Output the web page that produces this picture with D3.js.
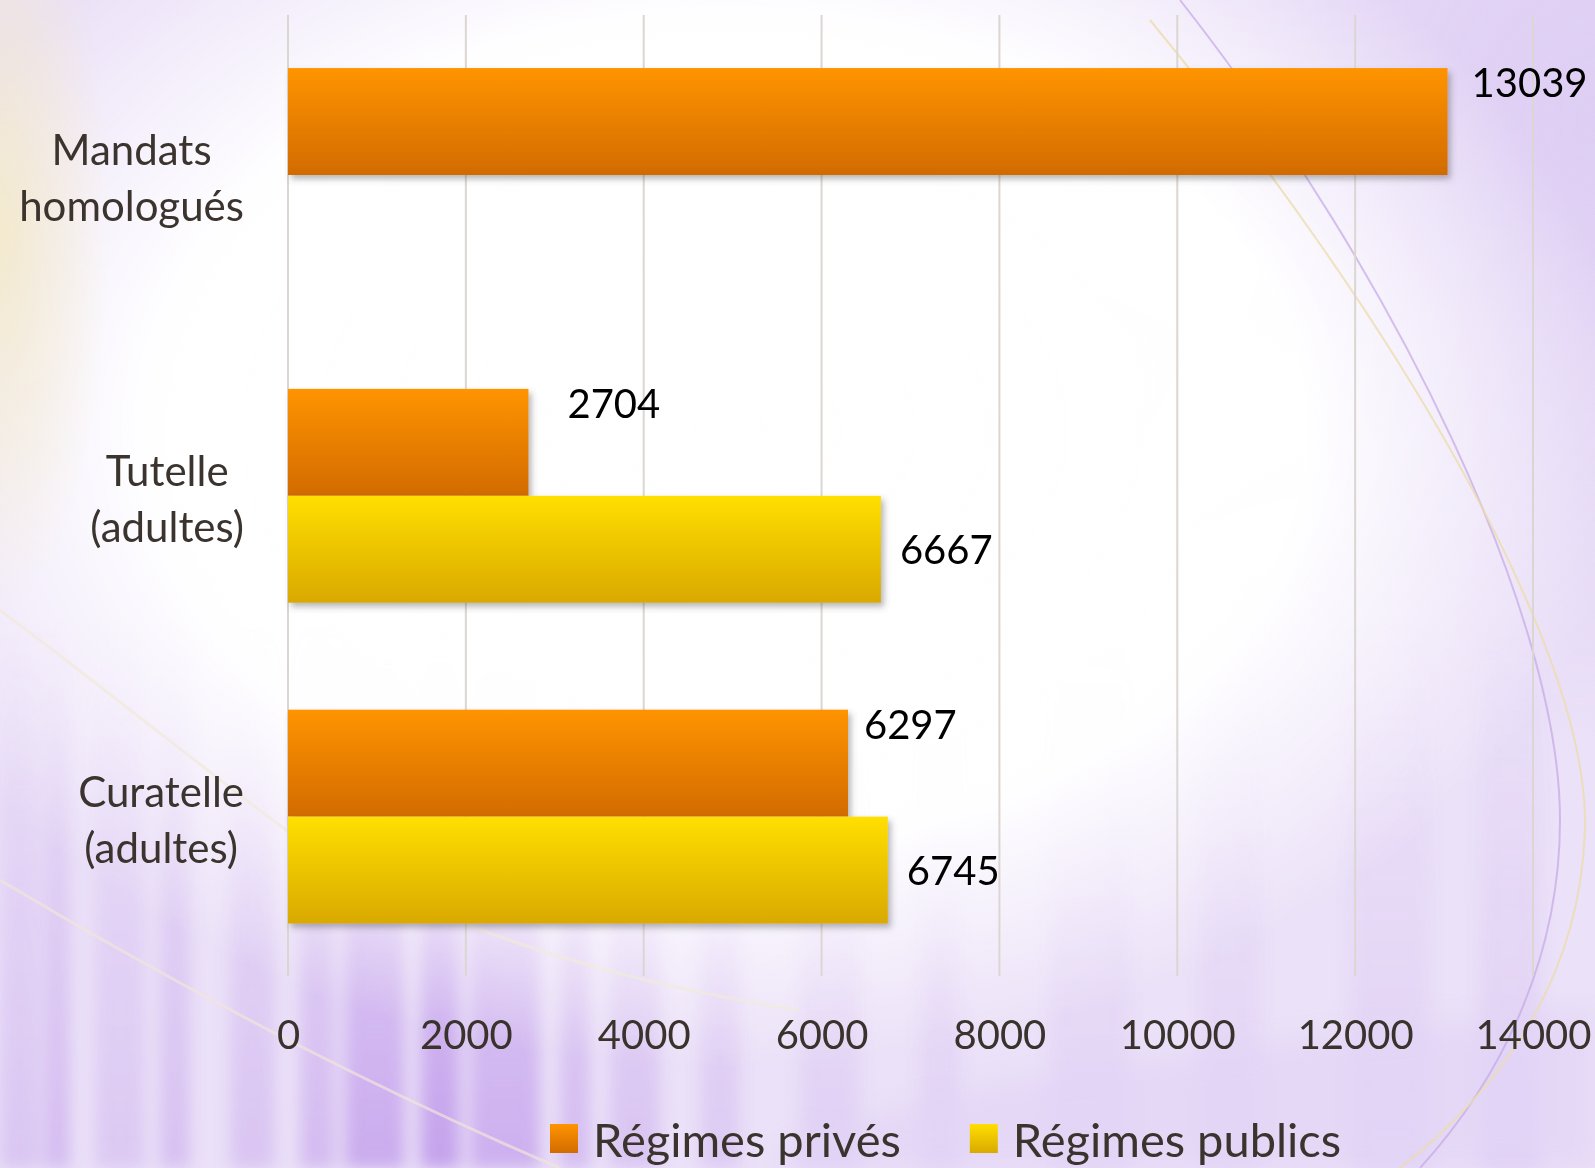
<!DOCTYPE html>
<html>
<head>
<meta charset="utf-8">
<script src="https://cdn.jsdelivr.net/npm/d3@7"></script>
<style>
  html, body { margin: 0; padding: 0; background: #fff; overflow: hidden; }
  svg { display: block; }
  text { font-family: Lato, "Open Sans", sans-serif; }
</style>
</head>
<body>
<svg id="chart"></svg>
<script>
// data
var categories = ["Mandats homologués", "Tutelle (adultes)", "Curatelle (adultes)"];
var categoryLines = [["Mandats", "homologués"], ["Tutelle", "(adultes)"], ["Curatelle", "(adultes)"]];
var seriesNames = ["Régimes privés", "Régimes publics"];
var privesValues = [13039, 2704, 6297];
var publicsValues = [null, 6667, 6745];
var xTicks = [0, 2000, 4000, 6000, 8000, 10000, 12000, 14000];

// hand-placed data labels in the original (horizontal nudge per bar)
var privesLabelDx = [24, 39, 16];
var publicsLabelDx = [0, 19, 19];

var width = 1595, height = 1168;
var svg = d3.select("#chart").attr("width", width).attr("height", height);
var defs = svg.append("defs");

function vGradient(id, stops) {
  var g = defs.append("linearGradient").attr("id", id)
      .attr("x1", 0).attr("y1", 0).attr("x2", 0).attr("y2", 1);
  stops.forEach(s => g.append("stop").attr("offset", s[0])
      .attr("stop-color", s[1]).attr("stop-opacity", s[2] == null ? 1 : s[2]));
}
function rGradient(id, stops) {
  var g = defs.append("radialGradient").attr("id", id);
  stops.forEach(s => g.append("stop").attr("offset", s[0])
      .attr("stop-color", s[1]).attr("stop-opacity", s[2]));
}

vGradient("gradPrives", [[0, "#ff9400"], [1, "#d26b00"]]);
vGradient("gradPublics", [[0, "#ffdf00"], [1, "#d9a900"]]);
vGradient("streak", [[0, "#b07ee6", 0], [0.5, "#b07ee6", 0.6], [1, "#a874e4", 1]]);
rGradient("glow", [[0, "#ffffff", 1], [0.64, "#ffffff", 0.97], [1, "#ffffff", 0]]);
rGradient("beige", [[0, "#f3e9c8", 0.9], [1, "#f3e9c8", 0]]);
rGradient("lav", [[0, "#dccbf3", 0.9], [1, "#dccbf3", 0]]);

var shadow = defs.append("filter").attr("id", "shadow")
    .attr("x", "-5%").attr("y", "-10%").attr("width", "115%").attr("height", "130%");
shadow.append("feDropShadow").attr("dx", 3).attr("dy", 4).attr("stdDeviation", 3)
    .attr("flood-color", "#4a4a4a").attr("flood-opacity", 0.4);
defs.append("filter").attr("id", "soft").append("feGaussianBlur").attr("stdDeviation", 8);
defs.append("filter").attr("id", "softer").append("feGaussianBlur").attr("stdDeviation", 14);

// background (slide theme)
var bg = svg.append("g");
bg.append("rect").attr("width", width).attr("height", height).attr("fill", "#ebe1f8");
var streaks = [[0, 40, .25], [45, 25, .35], [95, 50, .22], [160, 30, .3], [230, 45, .26],
  [300, 35, .35], [345, 60, .5], [420, 40, .58], [470, 70, .46], [560, 30, .34],
  [610, 50, .26], [700, 40, .2], [800, 60, .14], [920, 40, .12], [1050, 80, .1],
  [1200, 60, .1], [1350, 80, .12], [1480, 60, .15]];
bg.append("g").attr("filter", "url(#soft)")
  .selectAll("rect").data(streaks).join("rect")
    .attr("x", d => d[0]).attr("width", d => d[1])
    .attr("y", 620).attr("height", height - 620)
    .attr("fill", "url(#streak)").attr("opacity", d => d[2]);
bg.append("ellipse").attr("cx", 1595).attr("cy", 120).attr("rx", 520).attr("ry", 620)
    .attr("fill", "url(#lav)");
bg.append("ellipse").attr("cx", 730).attr("cy", 430).attr("rx", 900).attr("ry", 640)
    .attr("fill", "url(#glow)");
bg.append("path").attr("d", "M760,1168 C900,1080 1200,1050 1595,1010 L1595,1168 Z")
    .attr("fill", "#e2d4f6").attr("opacity", 0.75).attr("filter", "url(#softer)");
bg.append("ellipse").attr("cx", 0).attr("cy", 230).attr("rx", 110).attr("ry", 380)
    .attr("fill", "url(#beige)");
bg.append("path").attr("d", "M1180,0 C1400,280 1560,620 1560,820 C1560,960 1500,1080 1420,1168")
    .attr("fill", "none").attr("stroke", "#c4a8e4").attr("stroke-width", 2).attr("opacity", 0.7);
bg.append("path").attr("d", "M1150,20 C1380,300 1590,640 1585,830 C1580,980 1500,1090 1400,1168")
    .attr("fill", "none").attr("stroke", "#ecdcae").attr("stroke-width", 2).attr("opacity", 0.8);
bg.append("path").attr("d", "M0,610 C120,700 230,790 300,840 C420,920 600,980 800,1010")
    .attr("fill", "none").attr("stroke", "#f1e9dc").attr("stroke-width", 3).attr("opacity", 0.7);
bg.append("path").attr("d", "M0,880 C200,1000 400,1100 560,1168")
    .attr("fill", "none").attr("stroke", "#f1e4dc").attr("stroke-width", 3).attr("opacity", 0.7);

// scales
var x = d3.scaleLinear().domain([0, 14000]).range([288, 1533]);
var y = d3.scaleBand().domain(categories).range([14.6, 977])
    .paddingInner(1 / 3).paddingOuter(1 / 6);
var ySub = d3.scaleBand().domain(seriesNames).range([0, y.bandwidth()]);

// gridlines
svg.append("g").selectAll("line").data(xTicks).join("line")
    .attr("x1", d => x(d)).attr("x2", d => x(d))
    .attr("y1", 15).attr("y2", 976)
    .attr("stroke", "#dcd6d2").attr("stroke-width", 2);

// x axis labels
var xAxis = svg.append("g").attr("transform", "translate(0,977)")
    .call(d3.axisBottom(x).tickValues(xTicks).tickSize(0).tickPadding(44).tickFormat(d3.format("d")));
xAxis.select(".domain").remove();
xAxis.selectAll("text").attr("font-family", "Lato, sans-serif")
    .attr("font-size", 40).attr("fill", "#3a322d");

// bars
var rows = categories.map((c, i) => ({
  cat: c,
  values: [
    { series: seriesNames[0], value: privesValues[i], dx: privesLabelDx[i], fill: "url(#gradPrives)" },
    { series: seriesNames[1], value: publicsValues[i], dx: publicsLabelDx[i], fill: "url(#gradPublics)" }
  ].filter(v => v.value != null)
}));

var groups = svg.append("g").selectAll("g").data(rows).join("g")
    .attr("transform", d => "translate(0," + y(d.cat) + ")");

groups.selectAll("rect").data(d => d.values).join("rect")
    .attr("x", x(0))
    .attr("y", d => ySub(d.series))
    .attr("width", d => x(d.value) - x(0))
    .attr("height", ySub.bandwidth())
    .attr("fill", d => d.fill)
    .attr("filter", "url(#shadow)");

groups.selectAll("text.value").data(d => d.values).join("text")
    .attr("class", "value")
    .attr("x", d => x(d.value) + d.dx)
    .attr("y", d => d.series === seriesNames[0]
      ? ySub(d.series) + 29
      : ySub(d.series) + ySub.bandwidth() / 2 + 15)
    .attr("font-size", 40).attr("fill", "#000")
    .text(d => d.value);

// category labels: centered lines, block right-aligned
var catG = svg.append("g").selectAll("g").data(categories).join("g")
    .attr("transform", d => "translate(0," + (y(d) + y.bandwidth() / 2) + ")");
catG.each(function(d, i) {
  var g = d3.select(this);
  var texts = categoryLines[i].map((line, j) => g.append("text")
      .attr("y", j === 0 ? -10 : 46)
      .attr("font-size", 42).attr("fill", "#3b332e")
      .attr("text-anchor", "middle")
      .text(line));
  var w = d3.max(texts, t => t.node().getComputedTextLength());
  texts.forEach(t => t.attr("x", 244 - w / 2));
});

// legend
var legend = svg.append("g");
var lx = 550;
seriesNames.forEach((name, i) => {
  legend.append("rect").attr("x", lx).attr("y", 1124).attr("width", 28).attr("height", 29)
      .attr("fill", i === 0 ? "url(#gradPrives)" : "url(#gradPublics)");
  var t = legend.append("text").attr("x", lx + 43).attr("y", 1157)
      .attr("font-size", 47).attr("fill", "#3b332e").text(name);
  lx += 43 + t.node().getComputedTextLength() + 69;
});
</script>
</body>
</html>
